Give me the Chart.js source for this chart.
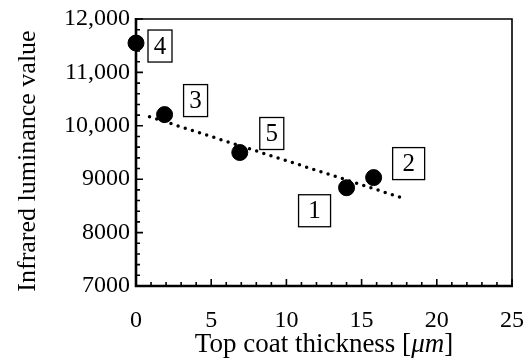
<!DOCTYPE html>
<html>
<head>
<meta charset="utf-8">
<title>Infrared luminance vs top coat thickness</title>
<script src="https://cdn.jsdelivr.net/npm/chart.js@4.4.1/dist/chart.umd.min.js"></script>
<style>
    html, body { margin: 0; padding: 0; background: #fff; overflow: hidden; }
    #wrap { position: relative; width: 528px; height: 360px; }
    .axis-title {
        position: absolute;
        text-align: center;
        font-family: "Liberation Serif", "Times New Roman", serif;
        font-size: 26px;
        line-height: 30px;
        height: 30px;
        color: #000;
        white-space: nowrap;
    }
    #xTitle { left: 136px; width: 376px; top: 328px; font-size: 27px; }
    #yTitle { left: -123px; width: 300px; top: 146px; transform: rotate(-90deg); }
</style>
</head>
<body>
<div id="wrap">
    <canvas id="myChart" width="528" height="360"></canvas>
    <div id="xTitle" class="axis-title">Top coat thickness [<i>μm</i>]</div>
    <div id="yTitle" class="axis-title">Infrared luminance value</div>
</div>
<script>
// sample data
const sampleIds = ['1', '2', '3', '4', '5'];
const thickness = [14, 15.8, 1.9, 0, 6.9];          // µm
const luminance = [8840, 9030, 10210, 11550, 9500];

// dotted trend line end points
const trendX = [0.9, 17.6];
const trendY = [10170, 8660];

// axes
const xTicks = [0, 5, 10, 15, 20, 25];
const yTicks = [7000, 8000, 9000, 10000, 11000, 12000];

const FONT = '"Liberation Serif", "Times New Roman", serif';

// where each numbered box sits relative to its point, and its width (px)
const labelBoxes = {
    '1': { dx: -32, dy: 23, w: 32 },
    '2': { dx: 35, dy: -14, w: 32 },
    '3': { dx: 31, dy: -14, w: 24 },
    '4': { dx: 24, dy: 3, w: 24 },
    '5': { dx: 32, dy: -19, w: 24 }
};

// frame + inward ticks (major and minor)
const framePlugin = {
    id: 'frame',
    afterDatasetsDraw(chart) {
        const ctx = chart.ctx;
        const a = chart.chartArea;
        const xs = chart.scales.x;
        const ys = chart.scales.y;
        ctx.save();
        ctx.strokeStyle = '#000';

        // top + right (thin)
        ctx.lineWidth = 1.6;
        ctx.beginPath();
        ctx.moveTo(a.left, a.top);
        ctx.lineTo(a.right, a.top);
        ctx.lineTo(a.right, a.bottom);
        ctx.stroke();

        // left + bottom (thick)
        ctx.lineWidth = 2.6;
        ctx.beginPath();
        ctx.moveTo(a.left, a.top - 1);
        ctx.lineTo(a.left, a.bottom);
        ctx.lineTo(a.right + 1, a.bottom);
        ctx.stroke();

        ctx.lineWidth = 1.6;
        ctx.beginPath();
        for (let v = xs.min; v <= xs.max; v += 1) {
            const px = xs.getPixelForValue(v);
            const len = (v % 5 === 0) ? 7 : 4;
            ctx.moveTo(px, a.bottom);
            ctx.lineTo(px, a.bottom - len);
        }
        for (let v = ys.min; v <= ys.max; v += 200) {
            const py = ys.getPixelForValue(v);
            const len = (v % 1000 === 0) ? 7 : 4;
            ctx.moveTo(a.left, py);
            ctx.lineTo(a.left + len, py);
        }
        ctx.stroke();
        ctx.restore();
    }
};

// numbered boxes next to each point
const boxPlugin = {
    id: 'boxes',
    afterDraw(chart) {
        const ctx = chart.ctx;
        const meta = chart.getDatasetMeta(1);
        ctx.save();
        ctx.font = '25px ' + FONT;
        ctx.textAlign = 'center';
        ctx.textBaseline = 'middle';
        meta.data.forEach(function(pt, i) {
            const id = sampleIds[i];
            const b = labelBoxes[id];
            const cx = pt.x + b.dx;
            const cy = pt.y + b.dy;
            const w = b.w, h = 32;
            ctx.fillStyle = '#fff';
            ctx.fillRect(cx - w / 2, cy - h / 2, w, h);
            ctx.strokeStyle = '#000';
            ctx.lineWidth = 1.3;
            ctx.strokeRect(cx - w / 2, cy - h / 2, w, h);
            ctx.fillStyle = '#000';
            ctx.fillText(id, cx, cy + 1);
        });
        ctx.restore();
    }
};

const ctx = document.getElementById('myChart');
const myChart = new Chart(ctx, {
    type: 'scatter',
    data: {
        datasets: [
            {
                type: 'line',
                label: 'Trend',
                data: trendX.map((x, i) => ({ x: x, y: trendY[i] })),
                borderColor: '#000',
                borderWidth: 3.5,
                borderDash: [0, 7.5],
                borderCapStyle: 'round',
                pointRadius: 0,
                fill: false
            },
            {
                label: 'Samples',
                data: thickness.map((x, i) => ({ x: x, y: luminance[i] })),
                backgroundColor: '#000',
                borderColor: '#000',
                pointRadius: 8,
                pointHoverRadius: 8,
                clip: false
            }
        ]
    },
    options: {
        responsive: false,
        animation: false,
        layout: { padding: { top: 19, right: 16, left: 0, bottom: 0 } },
        plugins: {
            legend: { display: false },
            tooltip: { enabled: false }
        },
        scales: {
            x: {
                type: 'linear',
                min: 0,
                max: 25,
                afterBuildTicks: function(scale) {
                    scale.ticks = xTicks.map(v => ({ value: v }));
                },
                afterFit: function(scale) {
                    scale.height = 74;
                    scale.paddingLeft = 0;
                    scale.paddingRight = 0;
                },
                grid: { display: false, drawTicks: false },
                border: { display: false },
                ticks: {
                    color: '#000',
                    padding: 20,
                    maxRotation: 0,
                    font: { family: FONT, size: 24 }
                }
            },
            y: {
                min: 7000,
                max: 12000,
                afterBuildTicks: function(scale) {
                    scale.ticks = yTicks.map(v => ({ value: v }));
                },
                afterFit: function(scale) {
                    scale.width = 136;
                    scale.paddingTop = 0;
                    scale.paddingBottom = 0;
                },
                grid: { display: false, drawTicks: false },
                border: { display: false },
                ticks: {
                    color: '#000',
                    padding: 6,
                    font: { family: FONT, size: 24 },
                    callback: function(v) {
                        return v >= 10000 ? v.toLocaleString('en-US') : String(v);
                    }
                }
            }
        }
    },
    plugins: [framePlugin, boxPlugin]
});
</script>
</body>
</html>
